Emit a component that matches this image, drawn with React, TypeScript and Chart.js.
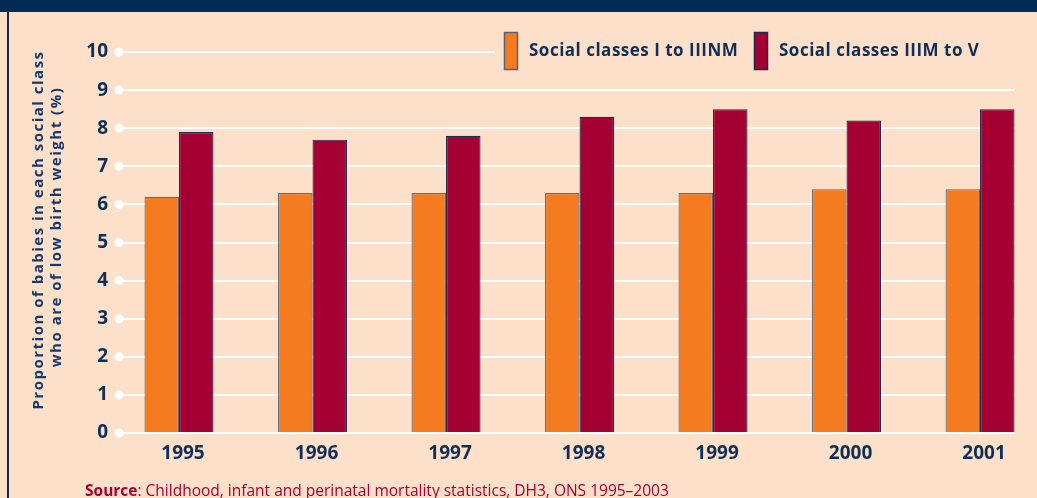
import React, { useEffect, useRef } from "react";
import { Chart, registerables } from "chart.js";

Chart.register(...registerables);

const years = [1995, 1996, 1997, 1998, 1999, 2000, 2001];
const seriesNames = ["Social classes I to IIINM", "Social classes IIIM to V"];
const lowerClassValues = [6.2, 6.3, 6.3, 6.3, 6.3, 6.4, 6.4];
const upperClassValues = [7.9, 7.7, 7.8, 8.3, 8.5, 8.2, 8.5];
const yTickValues = [0, 1, 2, 3, 4, 5, 6, 7, 8, 9, 10];
const yTitleLines = ["Proportion of babies in each social class", "who are of low birth weight (%)"];
const sourceLabel = "Source";
const sourceText = ": Childhood, infant and perinatal mortality statistics, DH3, ONS 1995\u20132003";

const PEACH = "#FDE0C9";
const NAVY = "#0F2F57";
const ORANGE = "#F47B20";
const CRIMSON = "#A50034";
const FONT = "'Open Sans', 'Noto Sans', sans-serif";

const decorPlugin = {
  id: "decor",
  beforeDraw(chart: any) {
    const { ctx, width, height } = chart;
    ctx.save();
    ctx.fillStyle = PEACH;
    ctx.fillRect(0, 0, width, height);
    ctx.fillStyle = "#002B55";
    ctx.fillRect(0, 0, width, 12);
    ctx.fillStyle = "#0E2D55";
    ctx.fillRect(7, 12, 2, height - 12);
    ctx.restore();
  },
  beforeDatasetsDraw(chart: any) {
    const { ctx, chartArea } = chart;
    const y = chart.scales.y;
    ctx.save();
    ctx.fillStyle = "#FFFFFF";
    y.ticks.forEach((t: any) => {
      const py = y.getPixelForValue(t.value);
      ctx.beginPath();
      ctx.arc(chartArea.left + 1, py, 4.5, 0, Math.PI * 2);
      ctx.fill();
    });
    ctx.restore();
  },
  afterDraw(chart: any) {
    const { ctx } = chart;
    ctx.save();
    // legend background covering top gridline
    ctx.fillStyle = PEACH;
    ctx.fillRect(495, 30, 530, 42);
    const colors = [ORANGE, CRIMSON];
    const borders = ["#56627A", "#1C2B4E"];
    const boxX = [504, 754];
    ctx.font = `bold 17px ${FONT}`;
    (ctx as any).letterSpacing = "0.5px";
    ctx.textBaseline = "middle";
    ctx.textAlign = "left";
    seriesNames.forEach((name, i) => {
      ctx.fillStyle = colors[i];
      ctx.fillRect(boxX[i], 32, 14, 38);
      ctx.strokeStyle = borders[i];
      ctx.lineWidth = 1.5;
      ctx.strokeRect(boxX[i] + 0.5, 32.5, 13, 37);
      ctx.fillStyle = NAVY;
      ctx.fillText(name, boxX[i] + 25, 51);
    });
    // y title
    ctx.save();
    ctx.font = `bold 15px ${FONT}`;
    (ctx as any).letterSpacing = "1.5px";
    ctx.fillStyle = "#17386A";
    ctx.textAlign = "center";
    ctx.textBaseline = "middle";
    const xs = [39, 57];
    const cy = [230, 227];
    yTitleLines.forEach((line, i) => {
      ctx.save();
      ctx.translate(xs[i], cy[i]);
      ctx.rotate(-Math.PI / 2);
      ctx.fillText(line, 0, 0);
      ctx.restore();
    });
    ctx.restore();
    // source
    (ctx as any).letterSpacing = "0px";
    ctx.textAlign = "left";
    ctx.textBaseline = "alphabetic";
    ctx.fillStyle = CRIMSON;
    ctx.font = `bold 15.5px ${FONT}`;
    ctx.fillText(sourceLabel, 85, 496);
    const w = ctx.measureText(sourceLabel).width;
    ctx.font = `15.5px ${FONT}`;
    ctx.fillText(sourceText, 85 + w, 496);
    ctx.restore();
  },
};

export default function App() {
  const ref = useRef<HTMLCanvasElement | null>(null);
  useEffect(() => {
    if (!ref.current) return;
    const chart = new Chart(ref.current, {
      type: "bar",
      data: {
        datasets: [
          {
            label: seriesNames[0],
            data: years.map((x, i) => ({ x, y: lowerClassValues[i] })),
            backgroundColor: ORANGE,
            borderColor: "#5E6A80",
            borderWidth: 1.2,
          },
          {
            label: seriesNames[1],
            data: years.map((x, i) => ({ x, y: upperClassValues[i] })),
            backgroundColor: CRIMSON,
            borderColor: "#1C2B4E",
            borderWidth: 1.2,
          },
        ],
      },
      options: {
        animation: false,
        responsive: true,
        maintainAspectRatio: false,
        categoryPercentage: 0.517,
        barPercentage: 1,
        layout: { padding: { left: 0, right: 22, top: 52, bottom: 0 } },
        plugins: { legend: { display: false }, tooltip: { enabled: false } },
        scales: {
          x: {
            type: "linear",
            min: 1994.543,
            max: 2001.262,
            offset: false,
            grid: { display: false, drawTicks: false },
            border: { display: false },
            ticks: {
              stepSize: 1,
              includeBounds: false,
              autoSkip: false,
              maxRotation: 0,
              padding: 9,
              labelOffset: 4,
              color: NAVY,
              font: { family: FONT, size: 19, weight: "bold" },
              callback: (v: any) => (years.includes(v) ? String(v) : ""),
            },
            afterFit: (s: any) => {
              s.height = 65;
            },
          },
          y: {
            min: yTickValues[0],
            max: yTickValues[yTickValues.length - 1],
            grid: { color: "#FFFFFF", lineWidth: 2, drawTicks: false },
            border: { display: false },
            ticks: {
              stepSize: 1,
              padding: 10,
              color: NAVY,
              font: { family: FONT, size: 19, weight: "bold" },
            },
            afterFit: (s: any) => {
              s.width = 118;
            },
          },
        },
      } as any,
      plugins: [decorPlugin],
    });
    return () => chart.destroy();
  }, []);
  return (
    <div style={{ position: "fixed", left: 0, top: 0, width: 1037, height: 498, background: PEACH }}>
      <canvas ref={ref} />
    </div>
  );
}
